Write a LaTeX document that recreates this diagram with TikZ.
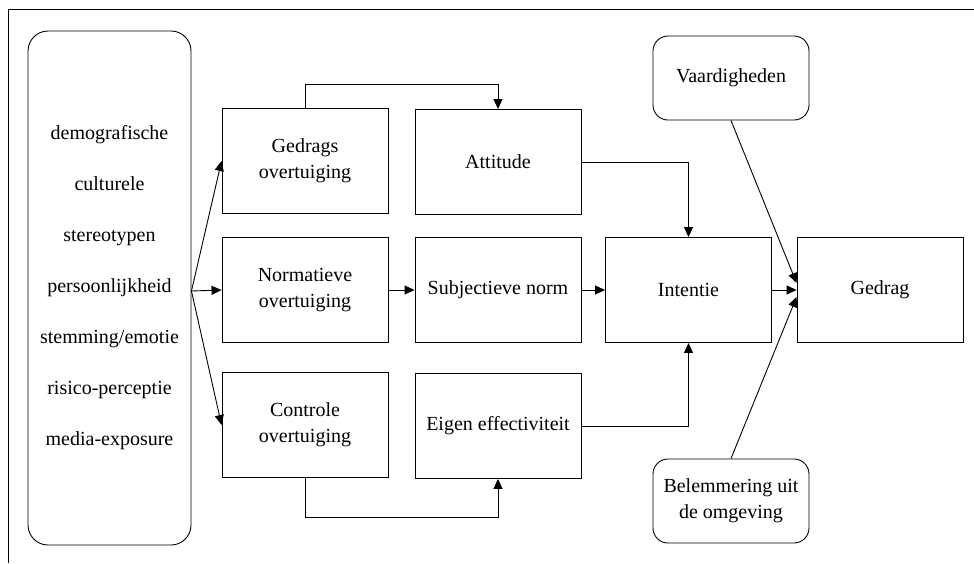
\documentclass[tikz,border=0pt]{standalone}
\usepackage{fontspec}
\setmainfont{Liberation Serif}
\usetikzlibrary{arrows.meta, calc}

\begin{document}
\begin{tikzpicture}[x=0.5pt, y=-0.5pt, line width=0.45pt,
  font=\fontsize{10}{13}\selectfont,
  box/.style={draw, align=center, minimum width=83pt, minimum height=52.5pt, inner sep=2pt},
  roundbox/.style={box, rounded corners=7.5pt, minimum width=78pt, minimum height=42pt},
  >={Triangle[length=5pt,width=4.5pt]}]
\useasboundingbox (0,0) rectangle (974,563);
\draw (8,563)--(8,9)--(974,9);
% factoren
\path
(109.5,288) node[draw, rounded corners=10pt, minimum width=81.5pt, minimum height=257pt, align=center,
  font=\fontsize{10}{25.5}\selectfont] (factors)
  {demografische\\culturele\\stereotypen\\persoonlijkheid\\stemming/emotie\\risico-perceptie\\media-exposure};
% overtuigingen
\path
(305,161) node[box] (gedrags) {Gedrags\\overtuiging};
\path
(305,290) node[box] (normatief) {Normatieve\\overtuiging};
\path
(305,425) node[box] (controle) {Controle\\overtuiging};
\path
(498,162) node[box] (attitude) {Attitude};
\path
(498,290) node[box] (norm) {Subjectieve norm};
\path
(498,426) node[box] (eigen) {Eigen effectiviteit};
\path
(688.5,290) node[box] (intentie) {Intentie};
\path
(880,290) node[box] (gedrag) {Gedrag};
\path
(731,78) node[roundbox] (vaardig) {Vaardigheden};
\path
(731,501) node[roundbox] (belem) {Belemmering uit\\de omgeving};
% pijlen
\coordinate (start) at ($(factors.east)+(0,3)$);
\draw[->] (start)--(gedrags.west);
\draw[->] (start)--(normatief.west);
\draw[->] (start)--(controle.west);
\draw[->] (normatief)--(norm);
\draw[->] (norm)--(intentie);
\draw[->] (intentie)--(gedrag);
\draw[->] (gedrags.north)--++(0,-24)-|(attitude.north);
\draw[->] (controle.south)--++(0,39)-|(eigen.south);
\draw[->] (attitude.east)-|(intentie.north);
\draw[->] (eigen.east)-|(intentie.south);
\draw[->] (vaardig.south)--($(gedrag.west)+(0,-7)$);
\draw[->] (belem.north)--($(gedrag.west)+(0,7)$);
\end{tikzpicture}
\end{document}
